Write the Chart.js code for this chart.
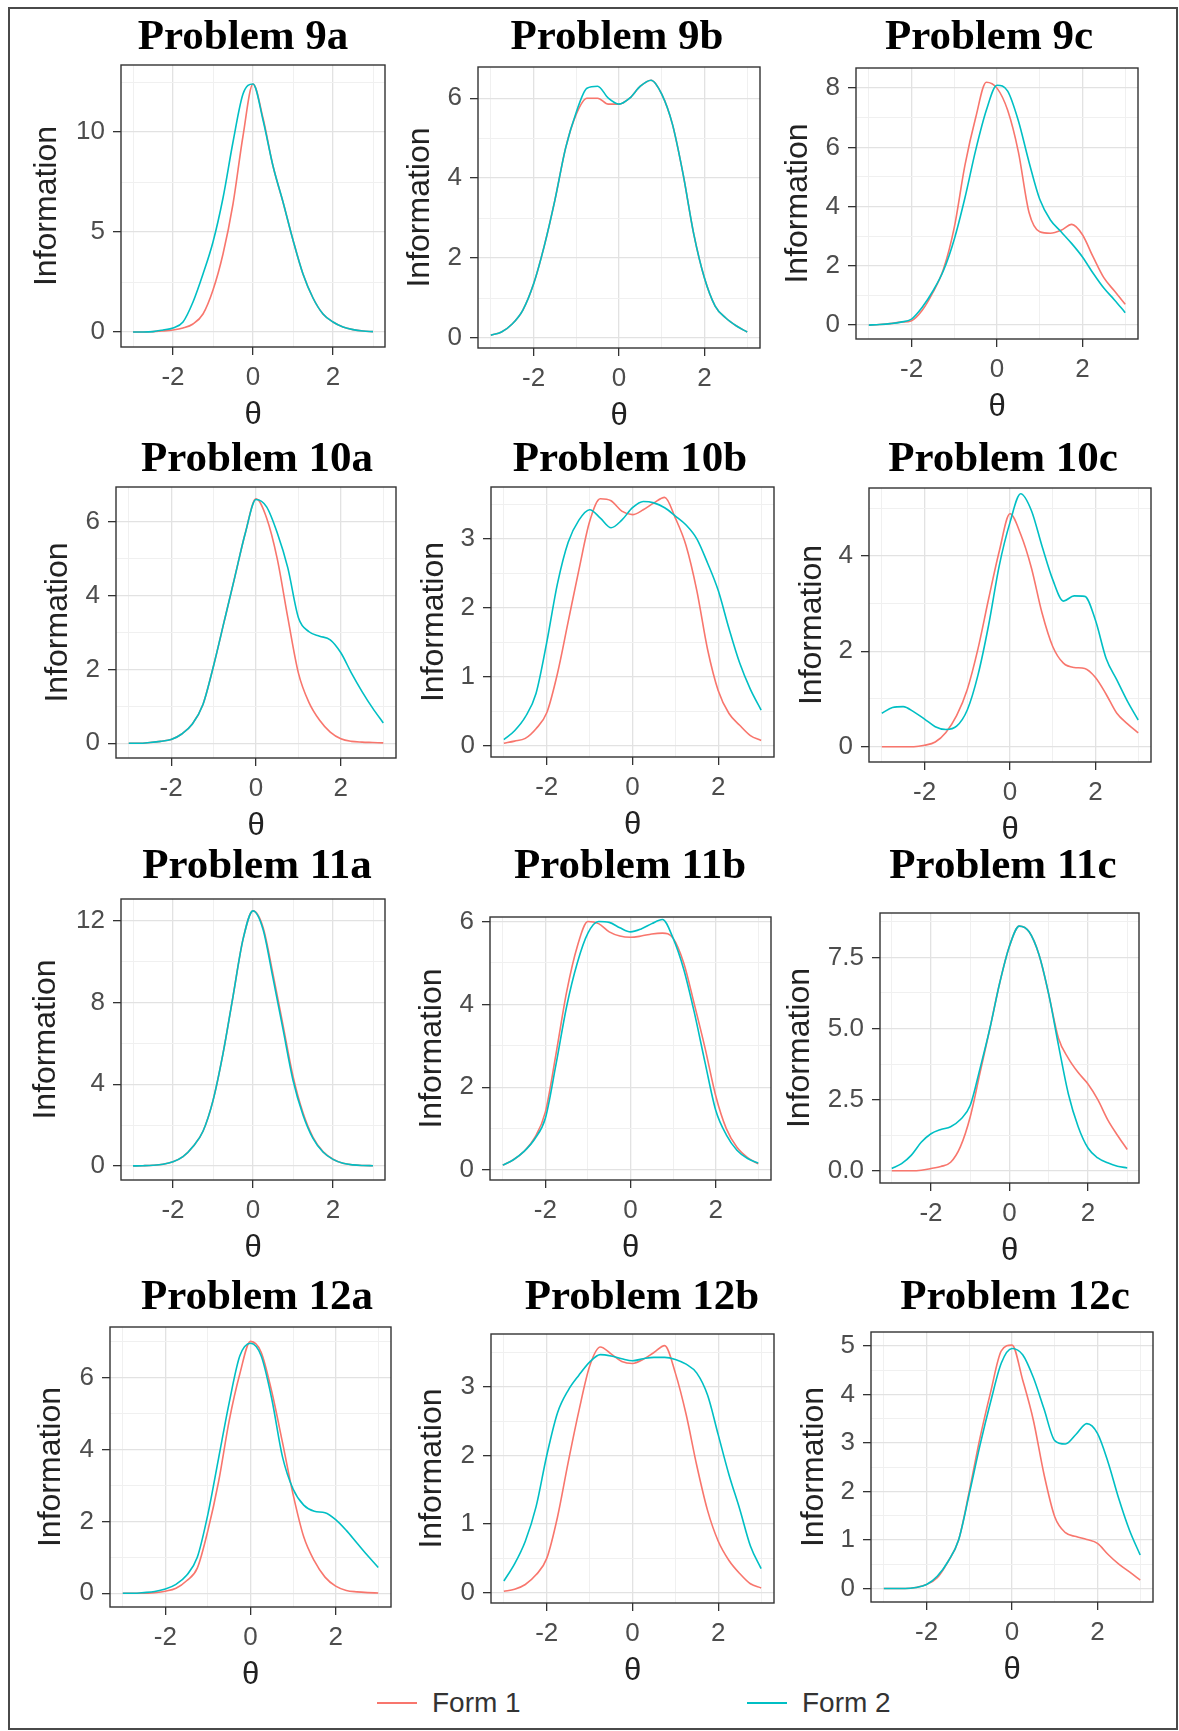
<!DOCTYPE html>
<html>
<head>
<meta charset="utf-8">
<script src="https://cdn.jsdelivr.net/npm/chart.js@4.4.1/dist/chart.umd.min.js"></script>
<style>
  html, body { margin: 0; padding: 0; background: #fff; }
  body { position: relative; width: 1179px; height: 1731px; overflow: hidden; font-family: 'Liberation Sans', Arial, sans-serif; }
  #frame { position: absolute; left: 8px; top: 7px; width: 1166px; height: 1719px; border: 2px solid #4a4a4a; }
  canvas { position: absolute; }
  .key { position: absolute; top: 1686px; height: 34px; line-height: 34px; font-size: 28px; color: #333; white-space: nowrap; }
  .key i { position: absolute; left: 0; top: 16px; width: 40px; height: 2px; }
  .key span { margin-left: 55px; }
</style>
</head>
<body>
<div id="frame"></div>
<div class="key" style="left:377px"><i style="background:#F8766D"></i><span>Form 1</span></div>
<div class="key" style="left:747px"><i style="background:#00BFC4"></i><span>Form 2</span></div>
<script>
// theta grid shared by every curve
const theta = [-3, -2.75, -2.5, -2.25, -2, -1.75, -1.5, -1.25, -1, -0.75, -0.5, -0.25, 0,
               0.25, 0.5, 0.75, 1, 1.25, 1.5, 1.75, 2, 2.25, 2.5, 2.75, 3];
const thetaTicks = [-3, -2, -1, 0, 1, 2, 3];

const p9aForm1 = [0, 0, 0.02, 0.05, 0.1, 0.2, 0.4, 0.9, 2.1, 3.9, 6.4, 9.8, 12.4, 10.7, 8.3, 6.5, 4.6, 2.9, 1.7, 0.9, 0.5, 0.25, 0.12, 0.05, 0.02];
const p9aForm2 = [0, 0, 0.02, 0.1, 0.2, 0.5, 1.5, 2.9, 4.5, 6.7, 9.5, 11.9, 12.4, 10.6, 8.3, 6.5, 4.6, 2.9, 1.7, 0.9, 0.5, 0.25, 0.12, 0.05, 0.02];
const p9bForm1 = [0.07, 0.15, 0.35, 0.7, 1.35, 2.3, 3.45, 4.75, 5.6, 6.0, 6.0, 5.85, 5.85, 6.0, 6.3, 6.45, 6.1, 5.35, 4.1, 2.6, 1.5, 0.8, 0.5, 0.3, 0.15];
const p9bForm2 = [0.07, 0.15, 0.35, 0.7, 1.35, 2.3, 3.45, 4.75, 5.65, 6.25, 6.3, 6.0, 5.85, 6.0, 6.3, 6.45, 6.1, 5.35, 4.1, 2.6, 1.5, 0.8, 0.5, 0.3, 0.15];
const p9cForm1 = [0, 0.02, 0.05, 0.1, 0.15, 0.5, 1.1, 1.9, 3.3, 5.4, 7.0, 8.2, 8.0, 7.25, 5.85, 3.8, 3.15, 3.1, 3.2, 3.4, 3.05, 2.3, 1.6, 1.15, 0.7];
const p9cForm2 = [0, 0.02, 0.05, 0.1, 0.2, 0.6, 1.15, 1.85, 2.9, 4.3, 5.9, 7.25, 8.1, 7.9, 6.9, 5.5, 4.25, 3.55, 3.15, 2.75, 2.3, 1.75, 1.25, 0.85, 0.42];
const p10aForm1 = [0, 0, 0.02, 0.05, 0.1, 0.25, 0.52, 1.05, 2.1, 3.3, 4.5, 5.7, 6.62, 6.1, 5.0, 3.4, 1.9, 1.1, 0.62, 0.3, 0.12, 0.05, 0.03, 0.02, 0.01];
const p10aForm2 = [0, 0, 0.02, 0.05, 0.1, 0.25, 0.52, 1.05, 2.1, 3.3, 4.5, 5.7, 6.6, 6.4, 5.7, 4.75, 3.4, 3.02, 2.9, 2.8, 2.45, 1.9, 1.4, 0.95, 0.55];
const p10bForm1 = [0.04, 0.07, 0.11, 0.25, 0.48, 1.05, 1.8, 2.55, 3.25, 3.58, 3.55, 3.4, 3.35, 3.42, 3.52, 3.6, 3.3, 2.9, 2.25, 1.4, 0.8, 0.47, 0.3, 0.15, 0.08];
const p10bForm2 = [0.09, 0.22, 0.42, 0.76, 1.5, 2.35, 2.95, 3.27, 3.42, 3.3, 3.16, 3.27, 3.45, 3.54, 3.52, 3.45, 3.33, 3.2, 3.0, 2.65, 2.25, 1.7, 1.2, 0.82, 0.52];
const p10cForm1 = [0, 0, 0, 0, 0.03, 0.1, 0.3, 0.65, 1.2, 2.05, 3.1, 4.1, 4.88, 4.45, 3.75, 2.8, 2.1, 1.75, 1.66, 1.64, 1.45, 1.1, 0.7, 0.48, 0.29];
const p10cForm2 = [0.7, 0.82, 0.84, 0.73, 0.58, 0.42, 0.36, 0.43, 0.77, 1.5, 2.55, 3.8, 4.7, 5.3, 4.95, 4.2, 3.5, 3.05, 3.16, 3.15, 2.65, 1.85, 1.4, 0.95, 0.56];
const p11aForm1 = [0, 0.01, 0.03, 0.08, 0.2, 0.45, 0.95, 1.7, 3.2, 5.5, 8.3, 11.1, 12.5, 11.7, 9.4, 6.9, 4.4, 2.6, 1.4, 0.7, 0.33, 0.13, 0.05, 0.02, 0.01];
const p11aForm2 = [0, 0.01, 0.03, 0.08, 0.2, 0.45, 0.95, 1.7, 3.2, 5.5, 8.3, 11.1, 12.5, 11.6, 9.2, 6.7, 4.2, 2.5, 1.35, 0.68, 0.32, 0.13, 0.05, 0.02, 0.01];
const p11bForm1 = [0.12, 0.25, 0.45, 0.78, 1.4, 2.8, 4.3, 5.4, 6.0, 5.95, 5.75, 5.65, 5.62, 5.65, 5.7, 5.72, 5.6, 5.0, 4.0, 2.95, 1.8, 1.0, 0.55, 0.3, 0.15];
const p11bForm2 = [0.12, 0.25, 0.45, 0.75, 1.25, 2.55, 3.95, 5.0, 5.72, 6.0, 5.98, 5.85, 5.75, 5.82, 5.95, 6.05, 5.6, 4.85, 3.8, 2.6, 1.45, 0.85, 0.48, 0.28, 0.17];
const p11cForm1 = [0, 0, 0, 0.02, 0.08, 0.15, 0.3, 0.85, 1.9, 3.45, 5.0, 6.6, 7.9, 8.6, 8.4, 7.6, 6.2, 4.65, 3.95, 3.45, 3.05, 2.5, 1.8, 1.25, 0.75];
const p11cForm2 = [0.08, 0.25, 0.55, 1.0, 1.3, 1.45, 1.55, 1.8, 2.3, 3.6, 5.0, 6.6, 7.9, 8.6, 8.4, 7.6, 6.2, 4.4, 2.7, 1.55, 0.8, 0.45, 0.28, 0.16, 0.1];
const p12aForm1 = [0, 0, 0, 0.02, 0.06, 0.14, 0.35, 0.7, 1.75, 3.1, 4.8, 6.1, 7.0, 6.7, 5.6, 4.2, 2.75, 1.57, 0.9, 0.45, 0.2, 0.08, 0.04, 0.02, 0.01];
const p12aForm2 = [0, 0, 0.02, 0.05, 0.12, 0.25, 0.5, 1.0, 2.2, 3.75, 5.3, 6.6, 6.95, 6.6, 5.4, 3.8, 2.9, 2.45, 2.28, 2.24, 2.05, 1.75, 1.4, 1.05, 0.72];
const p12bForm1 = [0.02, 0.05, 0.12, 0.26, 0.5, 1.1, 1.9, 2.65, 3.3, 3.58, 3.48, 3.37, 3.34, 3.4, 3.5, 3.6, 3.2, 2.6, 1.85, 1.2, 0.75, 0.47, 0.28, 0.13, 0.07];
const p12bForm2 = [0.17, 0.42, 0.75, 1.25, 2.0, 2.62, 2.95, 3.17, 3.36, 3.47, 3.45, 3.41, 3.38, 3.41, 3.43, 3.43, 3.4, 3.33, 3.2, 2.88, 2.3, 1.72, 1.22, 0.68, 0.35];
const p12cForm1 = [0, 0, 0, 0.02, 0.08, 0.22, 0.55, 1.0, 2.0, 3.1, 4.05, 4.9, 5.02, 4.3, 3.47, 2.35, 1.48, 1.15, 1.07, 1.01, 0.93, 0.7, 0.5, 0.34, 0.17];
const p12cForm2 = [0, 0, 0, 0.02, 0.08, 0.25, 0.55, 1.0, 1.95, 2.95, 3.85, 4.65, 4.95, 4.82, 4.35, 3.7, 3.05, 2.98, 3.18, 3.4, 3.2, 2.6, 1.85, 1.2, 0.69];

const titles = ['Problem 9a', 'Problem 9b', 'Problem 9c',
                'Problem 10a', 'Problem 10b', 'Problem 10c',
                'Problem 11a', 'Problem 11b', 'Problem 11c',
                'Problem 12a', 'Problem 12b', 'Problem 12c'];
const form1 = [p9aForm1, p9bForm1, p9cForm1, p10aForm1, p10bForm1, p10cForm1,
               p11aForm1, p11bForm1, p11cForm1, p12aForm1, p12bForm1, p12cForm1];
const form2 = [p9aForm2, p9bForm2, p9cForm2, p10aForm2, p10bForm2, p10cForm2,
               p11aForm2, p11bForm2, p11cForm2, p12aForm2, p12bForm2, p12cForm2];
// y axis: limits and labelled tick step
const yLimits = [[-0.75, 13.35], [-0.25, 6.78], [-0.47, 8.68],
                 [-0.40, 6.94], [-0.16, 3.75], [-0.32, 5.42],
                 [-0.69, 13.08], [-0.24, 6.11], [-0.43, 9.06],
                 [-0.38, 7.40], [-0.15, 3.77], [-0.28, 5.29]];
const yMajor = [5, 2, 2, 2, 1, 2, 4, 2, 2.5, 2, 1, 1];

// page layout: plot box [left, top, right, bottom], title centre, y-title gap
const boxes = [[121, 65, 385, 347], [478, 67, 760, 348], [856, 68, 1138, 339],
               [116, 487, 396, 758], [491, 487, 774, 757], [869, 488, 1151, 762],
               [121, 899, 385, 1180], [490, 917, 771, 1180], [880, 913, 1139, 1183],
               [110, 1327, 391, 1607], [491, 1334, 774, 1603], [871, 1332, 1153, 1602]];
const titleAt = [[243, 38], [617, 38], [989, 38],
                 [257, 460], [630, 460], [1003, 460],
                 [257, 867], [630, 867], [1003, 867],
                 [257, 1298], [642, 1298], [1015, 1298]];
const yTitleGap = [74, 58, 58, 58, 57, 57, 75, 58, 80, 59, 59, 57];

const RED = '#F8766D', CYAN = '#00BFC4';
const sans = "'Liberation Sans', Arial, sans-serif";
Chart.defaults.font.family = sans;

const isMajor = (v, step) => Math.abs(v / step - Math.round(v / step)) < 1e-6;

// major ticks plus the half-way minor ticks inside [lo, hi]
function halfSteps(lo, hi, step) {
  const out = [];
  const h = step / 2;
  for (let k = Math.ceil(lo / h - 1e-9); k * h <= hi + 1e-9; k++) out.push({ value: +(k * h).toFixed(4) });
  return out;
}

function makeChart(i) {
  const [l, t, r, b] = boxes[i];
  const padL = 130, padT = 75, padR = 30, padB = 100;
  const yw = yTitleGap[i] + 19;
  const xh = 87;
  const cv = document.createElement('canvas');
  cv.width = r - l + padL + padR;
  cv.height = b - t + padT + padB;
  cv.style.left = (l - padL) + 'px';
  cv.style.top = (t - padT) + 'px';
  document.body.appendChild(cv);

  const ox = l - padL, oy = t - padT;
  const step = yMajor[i];

  const panelDecor = {
    id: 'panelDecor',
    afterDatasetsDraw(chart) {
      const { ctx, chartArea: a } = chart;
      ctx.save();
      ctx.strokeStyle = '#333';
      ctx.lineWidth = 1.4;
      ctx.strokeRect(a.left, a.top, a.right - a.left, a.bottom - a.top);
      ctx.restore();
    },
    afterDraw(chart) {
      const ctx = chart.ctx;
      ctx.save();
      ctx.font = "bold 43px 'Liberation Serif', 'Times New Roman', serif";
      ctx.fillStyle = '#000';
      ctx.textAlign = 'center';
      ctx.textBaseline = 'middle';
      ctx.fillText(titles[i], titleAt[i][0] - ox, titleAt[i][1] - oy);
      ctx.restore();
    }
  };

  const pts = arr => theta.map((x, k) => ({ x, y: arr[k] }));

  new Chart(cv, {
    type: 'line',
    data: {
      datasets: [
        { label: 'Form 1', data: pts(form1[i]), borderColor: RED, order: 1 },
        { label: 'Form 2', data: pts(form2[i]), borderColor: CYAN, order: 0 }
      ]
    },
    options: {
      responsive: false,
      animation: false,
      layout: { padding: { left: padL - yw, top: padT, right: padR, bottom: padB - xh } },
      elements: {
        point: { radius: 0 },
        line: { borderWidth: 1.6, cubicInterpolationMode: 'monotone', fill: false }
      },
      plugins: { legend: { display: false }, tooltip: { enabled: false } },
      scales: {
        x: {
          type: 'linear', bounds: 'data', min: -3.3, max: 3.3,
          afterBuildTicks: s => { s.ticks = thetaTicks.map(v => ({ value: v })); },
          afterFit: s => { s.height = xh; },
          border: { display: false },
          grid: {
            color: c => isMajor(c.tick.value, 2) ? '#e2e2e2' : '#f0f0f0',
            lineWidth: c => isMajor(c.tick.value, 2) ? 1.3 : 1,
            tickColor: c => isMajor(c.tick.value, 2) ? '#333' : 'rgba(0,0,0,0)',
            tickLength: 8, tickWidth: 1.3
          },
          ticks: {
            autoSkip: false, maxRotation: 0,
            padding: 7, color: '#4d4d4d', font: { size: 26 },
            callback: v => isMajor(v, 2) ? String(v) : ''
          },
          title: { display: true, text: 'θ', color: '#222', font: { size: 31, lineHeight: 1.2 }, padding: 0 }
        },
        y: {
          type: 'linear', bounds: 'data', min: yLimits[i][0], max: yLimits[i][1],
          afterBuildTicks: s => { s.ticks = halfSteps(yLimits[i][0], yLimits[i][1], step); },
          afterFit: s => { s.width = yw; },
          border: { display: false },
          grid: {
            color: c => isMajor(c.tick.value, step) ? '#e2e2e2' : '#f0f0f0',
            lineWidth: c => isMajor(c.tick.value, step) ? 1.3 : 1,
            tickColor: c => isMajor(c.tick.value, step) ? '#333' : 'rgba(0,0,0,0)',
            tickLength: 8, tickWidth: 1.3
          },
          ticks: {
            autoSkip: false,
            padding: 8, color: '#4d4d4d', font: { size: 26 },
            callback: v => isMajor(v, step) ? v.toFixed(step % 1 ? 1 : 0) : ''
          },
          title: { display: true, text: 'Information', color: '#222', font: { size: 32, lineHeight: 1.2 }, padding: 0 }
        }
      }
    },
    plugins: [panelDecor]
  });
}

titles.forEach((_, i) => makeChart(i));
</script>
</body>
</html>
